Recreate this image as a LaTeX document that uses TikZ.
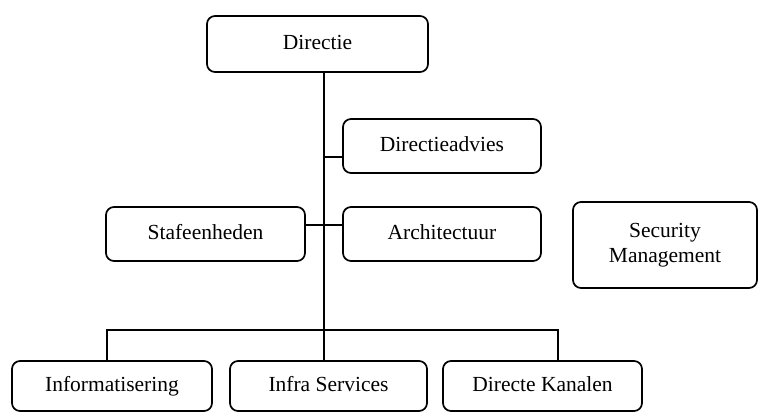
\documentclass[tikz,border=0pt]{standalone}
\usepackage{fontspec}
\setmainfont{Liberation Serif}
\begin{document}
\begin{tikzpicture}[x=1pt,y=-1pt,
  unit/.style={draw, line width=1.7pt, rounded corners=8pt, inner sep=0pt,
    align=center, font=\fontsize{21.5}{25}\selectfont},
  oneline/.style={unit, text height=15pt, text depth=4.5pt},
  link/.style={line width=1.2pt}]
\useasboundingbox (0,0) rectangle (759,412);

% organisational units (centre, size)
\node[oneline, minimum width=221pt, minimum height=56pt] (dir)   at (317.5,44)  {Directie};
\node[oneline, minimum width=198pt, minimum height=54pt] (adv)   at (442,146)   {Directieadvies};
\node[oneline, minimum width=198pt, minimum height=54pt] (arch)  at (442,234)   {Architectuur};
\node[oneline, minimum width=199pt, minimum height=54pt] (staf)  at (205.5,234) {Stafeenheden};
\node[unit, minimum width=184pt, minimum height=86pt] (sec)      at (665,245)   {Security\\Management};
\node[oneline, minimum width=200pt, minimum height=50pt] (info)  at (112,386)   {Informatisering};
\node[oneline, minimum width=197pt, minimum height=50pt] (infra) at (328.5,386) {Infra Services};
\node[oneline, minimum width=199pt, minimum height=50pt] (kan)   at (542.5,386) {Directe Kanalen};

% main spine and branch points
\coordinate (spine) at (324,0);
\coordinate (bar)   at (0,330);

\draw[link] (dir.south -| spine) -- (infra.north -| spine);
\draw[link] ([yshift=-11pt]adv.west) -- ([yshift=-11pt]adv.west -| spine);
\draw[link] ([yshift=9pt]arch.west -| staf.east) -- ([yshift=9pt]arch.west);
\draw[link] ([xshift=-5pt]info.north) -- ([xshift=-5pt]info.north |- bar)
  -- ([xshift=15.5pt]kan.north |- bar) -- ([xshift=15.5pt]kan.north);
\end{tikzpicture}
\end{document}
